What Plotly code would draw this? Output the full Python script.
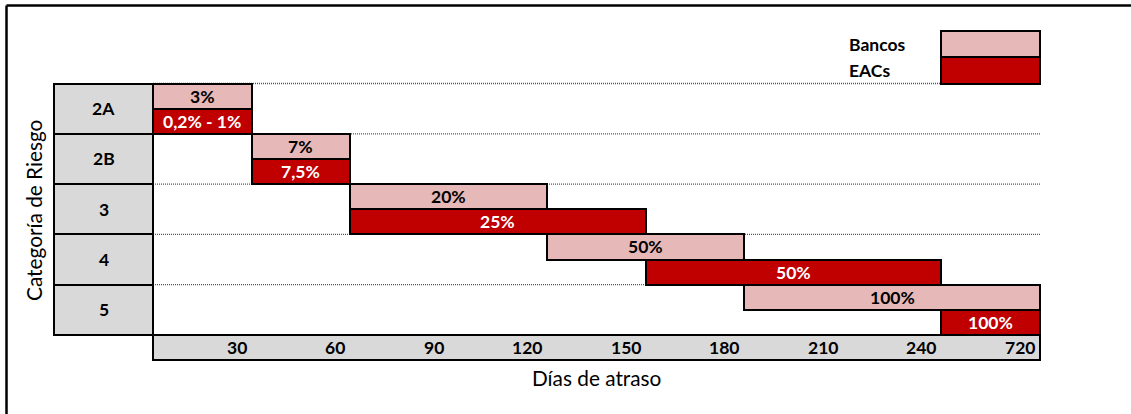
import plotly.graph_objects as go

# ---------------- data ----------------
categories = ["2A", "2B", "3", "4", "5"]
day_ticks = [0, 30, 60, 90, 120, 150, 180, 210, 240, 720]
tick_labels = ["30", "60", "90", "120", "150", "180", "210", "240", "720"]

bancos_start = [0, 30, 60, 120, 180]
bancos_end = [30, 60, 120, 180, 720]
bancos_labels = ["3%", "7%", "20%", "50%", "100%"]

eacs_start = [0, 30, 60, 150, 240]
eacs_end = [30, 60, 150, 240, 720]
eacs_labels = ["0,2% - 1%", "7,5%", "25%", "50%", "100%"]

series_names = ["Bancos", "EACs"]

# ---------------- style ----------------
C_BANCOS = "#E6B8B7"
C_EACS = "#C00000"
C_GREY = "#D9D9D9"
FONT = "Lato"
BOLD_SIZE = 17.5
TITLE_SIZE = 20.8
W, H = 1131, 414

# column index of a day boundary (non-linear day scale -> equal columns)
def col(d):
    return day_ticks.index(d)

# pixel geometry of the layout
ML, MR, MT, MB = 44, 81, 25, 44
X0_PX, X9_PX = 153.0, 1040.0
Y0_PX, Y5_PX = 83.5, 335.0
pxx = (X9_PX - X0_PX) / 9.0
pxy = (Y5_PX - Y0_PX) / 5.0
x_lo = -(X0_PX - ML) / pxx
x_hi = 9 + ((W - MR) - X9_PX) / pxx
y_top = -(Y0_PX - MT) / pxy
y_bot = 5 + ((H - MB) - Y5_PX) / pxy


def paper_x(px):
    return (px - ML) / (W - ML - MR)


def paper_y(py):
    return ((H - MB) - py) / (H - MT - MB)


fig = go.Figure()
line_black = dict(color="black", width=2)
bold_font = dict(family=FONT, size=BOLD_SIZE, color="black", weight="bold")
annotations = []


def label(x, y, text, color="black", xanchor="center", xshift=0):
    annotations.append(dict(x=x, y=y, xref="x", yref="y", text="<b>%s</b>" % text,
                            showarrow=False, xanchor=xanchor, yanchor="middle",
                            xshift=xshift, font=dict(bold_font, color=color)))


# category boxes
cat_y = [i + 0.5 for i in range(len(categories))]
fig.add_trace(go.Bar(
    orientation="h", y=cat_y,
    x=[1] * len(categories), base=[-1] * len(categories), width=1.0,
    marker=dict(color=C_GREY, line=line_black),
    hoverinfo="skip", showlegend=False))
for c, yy in zip(categories, cat_y):
    label(-0.5, yy, c)

# day axis band
fig.add_trace(go.Bar(
    orientation="h", y=[5.25], x=[9], base=[0], width=0.5,
    marker=dict(color=C_GREY, line=line_black),
    hoverinfo="skip", showlegend=False))
for i, lab in enumerate(tick_labels):
    label(i + 1, 5.25, lab, xanchor="right", xshift=-3)

# series bars
for name, starts, ends, labs, color, tcolor, off in [
        (series_names[0], bancos_start, bancos_end, bancos_labels, C_BANCOS, "black", 0.25),
        (series_names[1], eacs_start, eacs_end, eacs_labels, C_EACS, "white", 0.75)]:
    ys = [i + off for i in range(len(categories))]
    bases = [col(s) for s in starts]
    lens = [col(e) - col(s) for s, e in zip(starts, ends)]
    fig.add_trace(go.Bar(
        orientation="h", name=name, y=ys, base=bases, x=lens, width=0.5,
        marker=dict(color=color, line=line_black),
        hoverinfo="skip", showlegend=False))
    for yy, b, l, t in zip(ys, bases, lens, labs):
        label(b + l / 2, yy, t, color=tcolor)

# legend boxes
legend_y = [-0.78, -0.26]
fig.add_trace(go.Bar(
    orientation="h", y=legend_y, x=[1, 1], base=[8, 8], width=0.52,
    marker=dict(color=[C_BANCOS, C_EACS], line=line_black),
    hoverinfo="skip", showlegend=False))
for name, yy in zip(series_names, legend_y):
    label(7.04, yy, name, xanchor="left")

# axis titles (paper coordinates, outside the plotting range)
annotations.append(dict(x=paper_x(596.5), y=paper_y(377), xref="paper", yref="paper",
                        text="Días de atraso", showarrow=False,
                        xanchor="center", yanchor="middle",
                        font=dict(family=FONT, size=TITLE_SIZE, color="black")))
annotations.append(dict(x=paper_x(33), y=paper_y(211), xref="paper", yref="paper",
                        text="Categoría de Riesgo", showarrow=False,
                        xanchor="center", yanchor="middle", textangle=-90,
                        font=dict(family=FONT, size=TITLE_SIZE, color="black")))

shapes = []
for r in range(5):
    shapes.append(dict(type="line", xref="x", yref="y", x0=0, x1=9, y0=r, y1=r,
                       line=dict(color="#555555", width=1.3, dash="1px,1px"), layer="below"))

# outer frame (top and left edges visible)
shapes.append(dict(type="line", xref="paper", yref="paper",
                   x0=paper_x(6.5), x1=paper_x(W + 10), y0=paper_y(5.5), y1=paper_y(5.5),
                   line=dict(color="black", width=2.5)))
shapes.append(dict(type="line", xref="paper", yref="paper",
                   x0=paper_x(6.5), x1=paper_x(6.5), y0=paper_y(5.5), y1=paper_y(H + 10),
                   line=dict(color="black", width=2.5)))

fig.update_layout(
    width=W, height=H, autosize=False,
    margin=dict(l=ML, r=MR, t=MT, b=MB, pad=0),
    paper_bgcolor="white", plot_bgcolor="white",
    barmode="overlay", bargap=0,
    xaxis=dict(range=[x_lo, x_hi], visible=False, fixedrange=True),
    yaxis=dict(range=[y_bot, y_top], visible=False, fixedrange=True),
    annotations=annotations, shapes=shapes,
    showlegend=False,
)

fig.write_html("out.html")
